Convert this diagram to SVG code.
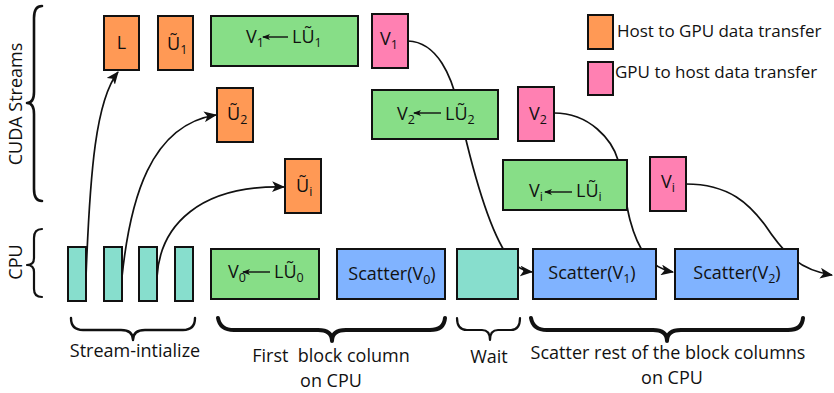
<svg xmlns="http://www.w3.org/2000/svg" width="834" height="393" viewBox="0 0 834 393">
  <style>
    .box { stroke: #111; stroke-width: 2; }
    .h2d { fill: #ff9955; }
    .d2h { fill: #ff80b2; }
    .comp { fill: #87de87; }
    .cpu { fill: #87decd; }
    .scat { fill: #80b3ff; }
    text { font-family: "Open Sans", "Noto Sans", "DejaVu Sans", sans-serif; fill: #111; }
    .lbl { font-size: 18px; }
    .cap { font-size: 18px; }
    .leg { font-size: 17px; }
    .sub { font-size: 12.5px; }
    .conn { fill: none; stroke: #111; stroke-width: 1.7; }
    .inarrow { stroke: #111; stroke-width: 1.4; }
    .brace { fill: none; stroke: #111; stroke-linecap: round; stroke-linejoin: round; }
  </style>
  <defs>
    <marker id="arr" viewBox="0 0 12 10" refX="11" refY="5" markerWidth="13" markerHeight="11" markerUnits="userSpaceOnUse" orient="auto">
      <path d="M0,0 L12,5 L0,10 L3,5 Z" fill="#111"/>
    </marker>
    <marker id="small" viewBox="0 0 8 6" refX="7" refY="3" markerWidth="8" markerHeight="6" markerUnits="userSpaceOnUse" orient="auto">
      <path d="M0,0 L8,3 L0,6 L2,3 Z" fill="#111"/>
    </marker>
  </defs>

  <!-- axis labels and side braces -->
  <g id="axis-labels">
    <text class="lbl" transform="translate(22,104) rotate(-90)" text-anchor="middle">CUDA Streams</text>
    <text class="lbl" transform="translate(22,262) rotate(-90)" text-anchor="middle">CPU</text>
    <path class="brace" stroke-width="2.6" d="M42,6 Q34,6 34,18 L34,92 Q34,103 27,103 Q34,103 34,114 L34,189 Q34,201 42,201"/>
    <path class="brace" stroke-width="2.2" d="M42,229 Q34,229 34,238 L34,258 Q34,265 27,265 Q34,265 34,272 L34,289 Q34,297 42,297"/>
  </g>

  <!-- connectors (drawn beneath the nodes) -->
  <g id="connectors">
    <path class="conn" marker-end="url(#arr)" d="M86,277 C 90,170 96,100 118,72"/>
    <path class="conn" marker-end="url(#arr)" d="M122,277 C 130,200 150,125 216,115"/>
    <path class="conn" marker-end="url(#arr)" d="M157,277 C 160,225 200,185 284,187"/>
    <path class="conn" marker-end="url(#arr)" d="M408,41 C 438,42 452,78 458,105 C 463,128 482,215 505,252 C 512,263 520,271 532,272"/>
    <path class="conn" marker-end="url(#arr)" d="M554,113 C 590,113 612,140 618,160 C 624,185 626,205 630,220 C 638,250 650,268 673,272"/>
    <path class="conn" marker-end="url(#arr)" d="M686,184 C 730,184 750,205 765,225 C 785,255 800,270 832,275"/>
  </g>

  <!-- CPU stream-initialize slots -->
  <g id="init1"><rect class="box cpu" x="68" y="247" width="18" height="54"/></g>
  <g id="init2"><rect class="box cpu" x="104" y="247" width="18" height="54"/></g>
  <g id="init3"><rect class="box cpu" x="139" y="247" width="18" height="54"/></g>
  <g id="init4"><rect class="box cpu" x="175" y="247" width="18" height="54"/></g>

  <!-- host to GPU transfers -->
  <g id="h2d-L">
    <rect class="box h2d" x="104" y="16" width="35" height="54"/>
    <text class="lbl" x="121.5" y="49" text-anchor="middle">L</text>
  </g>
  <g id="h2d-U1">
    <rect class="box h2d" x="158" y="16" width="35" height="54"/>
    <text class="lbl" x="167" y="50">Ũ<tspan class="sub" dy="4">1</tspan></text>
  </g>
  <g id="h2d-U2">
    <rect class="box h2d" x="217" y="88" width="36" height="54"/>
    <text class="lbl" x="227" y="120">Ũ<tspan class="sub" dy="4">2</tspan></text>
  </g>
  <g id="h2d-Ui">
    <rect class="box h2d" x="285" y="159" width="36" height="54"/>
    <text class="lbl" x="296" y="192">Ũ<tspan class="sub" dy="4">i</tspan></text>
  </g>

  <!-- GPU compute blocks -->
  <g id="gpu-1">
    <rect class="box comp" x="211" y="16" width="147" height="50"/>
    <text class="lbl" x="246" y="43">V<tspan class="sub" dy="4">1</tspan></text>
    <line class="inarrow" x1="288" y1="37" x2="263" y2="37" marker-end="url(#small)"/>
    <text class="lbl" x="292" y="43">LŨ<tspan class="sub" dy="4">1</tspan></text>
  </g>
  <g id="gpu-2">
    <rect class="box comp" x="372" y="90" width="126" height="49"/>
    <text class="lbl" x="397" y="120">V<tspan class="sub" dy="4">2</tspan></text>
    <line class="inarrow" x1="441" y1="113" x2="414" y2="113" marker-end="url(#small)"/>
    <text class="lbl" x="445" y="120">LŨ<tspan class="sub" dy="4">2</tspan></text>
  </g>
  <g id="gpu-i">
    <rect class="box comp" x="503" y="160" width="124" height="50"/>
    <text class="lbl" x="529" y="197">V<tspan class="sub" dy="4">i</tspan></text>
    <line class="inarrow" x1="572" y1="192" x2="545" y2="192" marker-end="url(#small)"/>
    <text class="lbl" x="576" y="197">LŨ<tspan class="sub" dy="4">i</tspan></text>
  </g>

  <!-- GPU to host transfers -->
  <g id="d2h-V1">
    <rect class="box d2h" x="372" y="14" width="36" height="54"/>
    <text class="lbl" x="380" y="45">V<tspan class="sub" dy="4">1</tspan></text>
  </g>
  <g id="d2h-V2">
    <rect class="box d2h" x="518" y="87" width="36" height="54"/>
    <text class="lbl" x="529" y="120">V<tspan class="sub" dy="4">2</tspan></text>
  </g>
  <g id="d2h-Vi">
    <rect class="box d2h" x="650" y="157" width="36" height="54"/>
    <text class="lbl" x="661" y="188">V<tspan class="sub" dy="4">i</tspan></text>
  </g>

  <!-- CPU work -->
  <g id="cpu-0">
    <rect class="box comp" x="211" y="249" width="108" height="50"/>
    <text class="lbl" x="228" y="278">V<tspan class="sub" dy="4">0</tspan></text>
    <line class="inarrow" x1="270" y1="272" x2="243" y2="272" marker-end="url(#small)"/>
    <text class="lbl" x="274" y="278">LŨ<tspan class="sub" dy="4">0</tspan></text>
  </g>
  <g id="scatter-0">
    <rect class="box scat" x="337" y="249" width="108" height="50"/>
    <text class="lbl" x="392" y="280" text-anchor="middle">Scatter(V<tspan class="sub" dy="4">0</tspan><tspan dy="-4">)</tspan></text>
  </g>
  <g id="wait">
    <rect class="box cpu" x="457" y="249" width="61" height="50"/>
  </g>
  <g id="scatter-1">
    <rect class="box scat" x="533" y="249" width="123" height="50"/>
    <text class="lbl" x="592" y="279" text-anchor="middle">Scatter(V<tspan class="sub" dy="4">1</tspan><tspan dy="-4">)</tspan></text>
  </g>
  <g id="scatter-2">
    <rect class="box scat" x="675" y="249" width="123" height="50"/>
    <text class="lbl" x="737" y="279" text-anchor="middle">Scatter(V<tspan class="sub" dy="4">2</tspan><tspan dy="-4">)</tspan></text>
  </g>

  <!-- phase braces and captions -->
  <g id="phase-init">
    <path class="brace" stroke-width="2.4" d="M71,318 Q71,330 83,330 L121,330 Q133,330 133,340 Q133,330 145,330 L183,330 Q195,330 195,318"/>
    <text class="cap" x="135" y="357" text-anchor="middle">Stream-intialize</text>
  </g>
  <g id="phase-first">
    <path class="brace" stroke-width="4" d="M218,318 Q220,330 234,330 L318,330 Q332,330 332,341 Q332,330 346,330 L430,330 Q444,330 445,318"/>
    <text class="cap" x="331" y="362" text-anchor="middle" xml:space="preserve">First  block column</text>
    <text class="cap" x="331" y="387" text-anchor="middle">on CPU</text>
  </g>
  <g id="phase-wait">
    <path class="brace" stroke-width="2.2" d="M457,318 Q457,330 467,330 L482,330 Q490,330 490,340 Q490,330 498,330 L511,330 Q520,330 520,318"/>
    <text class="cap" x="489" y="363" text-anchor="middle">Wait</text>
  </g>
  <g id="phase-scatter">
    <path class="brace" stroke-width="4" d="M531,318 Q533,330 547,330 L653,330 Q667,330 667,341 Q667,330 681,330 L788,330 Q802,330 803,318"/>
    <text class="cap" x="668" y="359" text-anchor="middle">Scatter rest of the block columns</text>
    <text class="cap" x="672" y="384" text-anchor="middle">on CPU</text>
  </g>

  <!-- legend -->
  <g id="legend-h2d">
    <rect class="box h2d" x="588" y="15" width="25" height="34"/>
    <text class="leg" x="617" y="37">Host to GPU data transfer</text>
  </g>
  <g id="legend-d2h">
    <rect class="box d2h" x="588" y="62" width="25" height="33"/>
    <text class="leg" x="615" y="78">GPU to host data transfer</text>
  </g>
</svg>
